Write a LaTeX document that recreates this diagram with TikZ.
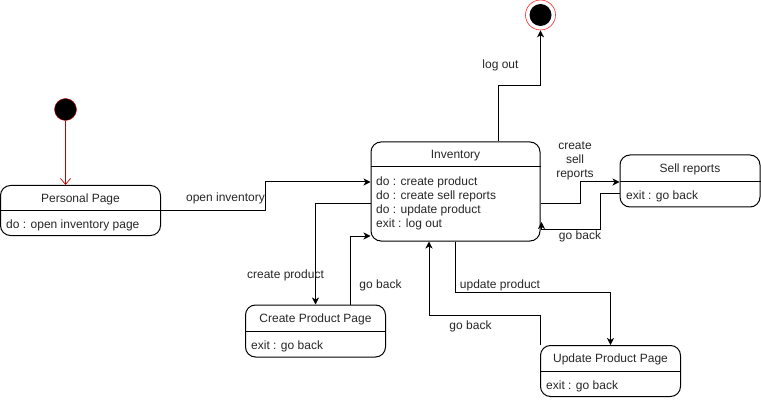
\documentclass[tikz,border=0pt]{standalone}
\usepackage{fontspec}
\setmainfont{Liberation Sans}
\usepackage{tikz}
\usetikzlibrary{calc}
\usetikzlibrary{arrows.meta}

\tikzset{
  statebox/.style = {draw, rounded corners=10pt, line width=1pt, inner sep=0pt},
  txt/.style = {inner sep=0pt, text=black!85, font=\fontsize{12}{14}\selectfont},
  link/.style = {->, >={Stealth[length=7pt,width=7pt,inset=2pt]}, line width=1pt},
}

\begin{document}
\begin{tikzpicture}[x=1pt, y=-1pt]
        \useasboundingbox (0,0) rectangle (761,401);
        % start and end
        \node[circle, draw=red!80!black, fill=black, minimum size=22pt, inner sep=0pt] (start) at (65.5,109.5) {};
        \node[circle, draw=red!85, fill=white, minimum size=30pt, inner sep=0pt, line width=0.6pt] (finish) at (540.5,15) {};
        \fill[black] (finish) circle[radius = 11];
        % states
        \node[statebox, minimum width=160pt, minimum height=50pt] (personal) at (80.5,210.5) {};
        \node[statebox, minimum width=169pt, minimum height=99pt] (inventory) at (455.5,191.5) {};
        \node[statebox, minimum width=140pt, minimum height=52pt] (sell) at (690,181) {};
        \node[statebox, minimum width=140pt, minimum height=52pt] (create) at (315.5,331) {};
        \node[statebox, minimum width=140pt, minimum height=51pt] (update) at (610.5,371) {};
        \draw[line width=1pt] (personal.west |- 0,211) -- (personal.east |- 0,211);
        \draw[line width=1pt] (inventory.west |- 0,167) -- (inventory.east |- 0,167);
        \draw[line width=1pt] (sell.west |- 0,182) -- (sell.east |- 0,182);
        \draw[line width=1pt] (create.west |- 0,331) -- (create.east |- 0,331);
        \draw[line width=1pt] (update.west |- 0,371.5) -- (update.east |- 0,371.5);
        % titles and activities
        \node[txt] (personalT) at (80.5,199) {Personal Page};
        \node[txt, anchor=west] (personalD) at (6,225) {do : open inventory page};
        \node[txt] (inventoryT) at (455.5,156) {Inventory};
        \node[txt, anchor=west, align=left] (inventoryD) at (376,203) {do : create product\\do : create sell reports\\do : update product\\exit : log out};
        \node[txt] (sellT) at (690,169) {Sell reports};
        \node[txt, anchor=west] (sellD) at (626,196) {exit : go back};
        \node[txt] (createT) at (315.5,319) {Create Product Page};
        \node[txt, anchor=west] (createD) at (251,346) {exit : go back};
        \node[txt] (updateT) at (610.5,359.5) {Update Product Page};
        \node[txt, anchor=west] (updateD) at (546,386) {exit : go back};
        % transitions
        \draw[red!75!black, line width=0.7pt, -{Straight Barb[length=6pt,width=10pt]}] (start) -- (personal.north -| start);
        \draw[link] (personal.east |- 0,210.5) -| (265.5,182) -- (inventory.west |- 0,182);
        \draw[link] (inventory.north -| 498,0) |- (540.5,86) -- (finish);
        \draw[link] (inventory.east |- 0,204) -| (580,182) -- (sell.west |- 0,182);
        \draw[link] (sell.west |- 0,194) -| (600,229) -| (541.5,222);
        \draw[link] (inventory.west |- 0,204) -| (create.north -| 315.5,0);
        \draw[link] (create.north -| 350.5,0) |- (inventory.west |- 0,236);
        \draw[link] (inventory.south -| 455.5,0) |- (610.5,292.5) -- (update.north);
        \draw[link] (update.north -| 540.5,0) |- (429,315.5) -- (inventory.south -| 429,0);
        % labels
        \node[txt] (lblOpen) at (225.5,198) {open inventory};
        \node[txt] (lblLogout) at (500.5,65) {log out};
        \node[txt, align=center] (lblSell) at (575,161) {create\\sell\\reports};
        \node[txt] (lblBackSell) at (580,236) {go back};
        \node[txt] (lblCreate) at (285.5,275) {create product};
        \node[txt] (lblBackCreate) at (380.5,285.5) {go back};
        \node[txt] (lblUpdate) at (500,285.5) {update product};
        \node[txt] (lblBackUpdate) at (470.5,326) {go back};
\end{tikzpicture}
\end{document}
